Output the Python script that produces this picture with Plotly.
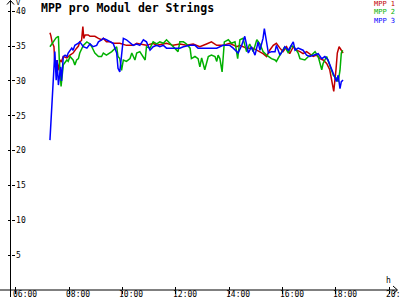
import plotly.graph_objects as go

# ---------------- data ----------------
series_names = ["MPP 1", "MPP 2", "MPP 3"]
series_colors = ["#c00000", "#00b000", "#0000ff"]

mpp1_t = ["07:17","07:19","07:22","07:26","07:28","07:31","07:33","07:35","07:40","07:43","07:47","07:55",
          "08:02","08:09","08:17","08:21","08:24","08:28","08:31","08:33","08:36","08:40","08:43","08:47","08:58",
          "09:06","09:13","09:17","09:24","09:32","09:39","09:54","10:09","10:24","10:32","10:39","10:54",
          "11:09","11:17","11:39","11:54","12:09","12:24","12:39","12:54","13:09","13:20","13:32","13:46",
          "14:01","14:17","14:24","14:39","14:54","15:09","15:16","15:24","15:31","15:39","15:46","15:54",
          "16:01","16:09","16:16","16:24","16:31","16:39","16:46","16:54","17:01","17:09","17:16","17:24",
          "17:31","17:39","17:46","17:54","17:55","18:00","18:03","18:07","18:12","18:16"]
mpp1_v = [36.9,36.5,35.5,34.9,32.5,31.6,33.0,31.5,33.0,32.8,33.5,33.3,
          33.7,34.0,34.7,35.0,35.6,35.8,37.8,36.1,36.6,36.6,36.6,36.4,36.4,
          36.1,35.9,36.1,35.6,35.6,35.4,35.4,35.1,35.1,35.4,35.3,35.1,
          35.4,35.1,35.4,35.1,35.3,35.1,35.3,34.9,35.3,35.6,35.1,35.1,
          35.4,34.9,35.1,34.7,34.7,34.2,33.9,33.5,34.4,35.1,35.4,34.7,
          34.2,34.9,33.9,34.9,34.4,34.2,33.9,34.2,33.9,33.5,33.7,33.2,
          33.0,32.5,31.6,29.2,28.5,31.6,34.0,34.9,34.4,34.0]

mpp2_t = ["07:17","07:24","07:31","07:36","07:38","07:42","07:44","07:47","07:55","07:58","08:02","08:09",
          "08:13","08:17","08:21","08:24","08:32","08:40","08:47","08:51","08:58","09:06","09:13","09:17",
          "09:24","09:36","09:47","09:50","09:54","09:58","10:02","10:09","10:17","10:21","10:28","10:32",
          "10:39","10:51","10:54","11:02","11:09","11:17","11:24","11:32","11:39","11:47","11:54","12:05",
          "12:09","12:17","12:24","12:32","12:35","12:43","12:50","12:54","12:58","13:05","13:13","13:20",
          "13:28","13:32","13:35","13:39","13:44","13:49","13:58","14:05","14:13","14:19","14:24","14:31",
          "14:39","14:46","14:54","15:02","15:09","15:16","15:24","15:35","15:43","15:46","15:54","16:05",
          "16:13","16:20","16:28","16:35","16:39","16:50","16:58","17:05","17:13","17:20","17:28","17:31",
          "17:39","17:46","17:54","18:01","18:05","18:09","18:12","18:15"]
mpp2_v = [34.9,35.5,36.2,36.4,33.0,29.2,31.0,32.3,33.0,32.8,33.5,33.0,
          32.3,33.0,33.2,34.0,35.1,35.6,35.3,34.9,34.0,33.5,33.5,34.0,
          33.7,34.2,34.9,33.5,33.2,31.5,33.0,32.8,33.2,34.0,33.0,34.0,
          34.2,33.0,34.9,34.7,35.6,35.3,35.6,35.4,35.9,35.4,34.9,34.2,
          35.6,35.6,35.3,34.7,33.2,33.5,33.2,32.0,33.3,31.6,33.5,33.7,
          33.5,32.8,33.7,33.2,31.3,35.6,35.9,35.4,35.6,33.2,35.9,36.1,
          34.2,35.3,34.2,35.9,35.3,34.2,33.7,33.2,33.0,32.8,33.7,34.9,
          34.0,35.1,34.7,34.0,33.2,33.0,33.5,33.7,34.2,33.5,31.6,32.5,
          33.5,32.3,30.8,30.4,29.9,31.5,34.0,34.4]

mpp3_t = ["07:17","07:19","07:22","07:24","07:26","07:28","07:31","07:33","07:36","07:38","07:41","07:43",
          "07:47","07:51","07:55","07:58","08:06","08:09","08:13","08:21","08:24","08:32","08:40","08:47",
          "08:54","09:02","09:06","09:13","09:17","09:24","09:32","09:39","09:47","09:50","09:54","09:58",
          "10:02","10:09","10:17","10:24","10:32","10:39","10:47","10:54","11:02","11:09","11:17","11:24",
          "11:32","11:39","11:54","12:09","12:17","12:32","12:43","12:50","13:05","13:32","13:46","14:01",
          "14:09","14:20","14:28","14:35","14:43","14:50","14:58","15:05","15:09","15:16","15:19","15:24",
          "15:28","15:35","15:43","15:46","15:54","16:01","16:05","16:13","16:20","16:24","16:28","16:35",
          "16:46","16:54","17:01","17:09","17:20","17:28","17:35","17:42","17:50","17:58","18:01","18:05",
          "18:09","18:12","18:16"]
mpp3_v = [21.5,24.0,26.5,29.2,31.5,34.2,30.1,33.0,29.4,30.5,32.0,30.0,
          33.5,33.7,33.5,34.0,34.7,34.4,35.1,35.4,35.6,34.9,34.7,35.3,
          34.9,35.1,35.6,35.9,36.1,35.9,35.6,35.4,34.0,31.8,31.3,33.5,
          36.1,35.9,35.4,35.1,35.3,35.1,35.9,35.6,34.4,34.9,35.1,34.9,
          35.1,34.7,34.7,34.7,34.9,35.1,35.1,34.7,34.7,34.7,35.1,35.1,
          34.7,34.0,35.1,36.4,34.0,34.9,33.7,35.6,34.4,36.1,37.5,35.4,
          34.0,34.2,34.2,35.1,33.7,34.4,34.9,34.4,35.1,35.6,34.4,34.7,
          34.4,33.7,33.5,33.7,33.9,33.2,33.5,33.0,31.8,30.4,29.9,30.8,
          28.9,29.9,30.1]

x_tick_hours = [6, 8, 10, 12, 14, 16, 18, 20]
x_tick_labels = ["06:00", "08:00", "10:00", "12:00", "14:00", "16:00", "18:00", "20:00"]
y_tick_values = [5, 10, 15, 20, 25, 30, 35, 40]
title_text = "MPP pro Modul der Strings"
y_unit = "V"
x_unit = "h"

assert len(mpp1_t) == len(mpp1_v)
assert len(mpp2_t) == len(mpp2_v)
assert len(mpp3_t) == len(mpp3_v)


def to_hours(ts):
    return [int(s[:2]) + int(s[3:]) / 60.0 for s in ts]


# ---------------- layout geometry (pixels) ----------------
W, H = 400, 300
X_AXIS_PX = 290.0      # pixel row of the horizontal axis (value 0)
Y_AXIS_PX = 10.5       # pixel column of the vertical axis
PX_PER_H = 26.69
X6_PX = 15.7           # pixel column of 06:00
PX_PER_V = 6.97

X0 = 6 + (0 - X6_PX) / PX_PER_H
X1 = 6 + (W - X6_PX) / PX_PER_H
Y0 = (X_AXIS_PX - H) / PX_PER_V
Y1 = X_AXIS_PX / PX_PER_V


def fx(p):
    return p / W


def fy(p):
    return 1 - p / H


mono = "DejaVu Sans Mono"

fig = go.Figure()
for name, col, t, v in zip(series_names, series_colors,
                           [mpp1_t, mpp2_t, mpp3_t], [mpp1_v, mpp2_v, mpp3_v]):
    fig.add_trace(go.Scatter(x=to_hours(t), y=v, mode="lines", name=name,
                             line=dict(color=col, width=1.5), showlegend=False,
                             hoverinfo="skip"))
# empty trace to carry secondary (tick-only) axes
fig.add_trace(go.Scatter(x=[], y=[], xaxis="x2", yaxis="y2", showlegend=False))

common = dict(showgrid=False, zeroline=False, showline=False, tickcolor="black",
              tickfont=dict(family=mono, size=8, color="black"))

fig.update_layout(
    width=W, height=H, margin=dict(l=0, r=0, t=0, b=0, autoexpand=False),
    paper_bgcolor="white", plot_bgcolor="white",
    xaxis=dict(range=[X0, X1], domain=[0, 1], anchor="free", position=1 - X_AXIS_PX / H,
               tickmode="array", tickvals=x_tick_hours, ticks="outside", ticklen=3,
               side="bottom", showticklabels=False, **common),
    xaxis2=dict(range=[X0, X1], domain=[0, 1], anchor="free", position=1 - X_AXIS_PX / H,
                overlaying="x", matches="x", side="top",
                tickmode="array", tickvals=x_tick_hours, ticks="outside", ticklen=3,
                showticklabels=False, **common),
    yaxis=dict(range=[Y0, Y1], domain=[0, 1], anchor="free", position=Y_AXIS_PX / W,
               tickmode="array", tickvals=y_tick_values, ticks="outside", ticklen=3,
               side="left", showticklabels=False, **common),
    yaxis2=dict(range=[Y0, Y1], domain=[0, 1], anchor="free", position=Y_AXIS_PX / W,
                overlaying="y", matches="y", side="right",
                tickmode="array", tickvals=y_tick_values, ticks="outside", ticklen=3,
                ticklabelstandoff=0, **common),
)

# axis lines and arrows (decoration)
line = dict(color="black", width=1)
shapes = [
    dict(type="line", xref="paper", yref="paper", x0=fx(0), x1=fx(397),
         y0=fy(X_AXIS_PX), y1=fy(X_AXIS_PX), line=line),
    dict(type="line", xref="paper", yref="paper", x0=fx(Y_AXIS_PX), x1=fx(Y_AXIS_PX),
         y0=fy(297), y1=fy(0.5), line=line),
    dict(type="path", xref="paper", yref="paper",
         path=f"M {fx(393)} {fy(286)} L {fx(397.5)} {fy(X_AXIS_PX)} L {fx(393)} {fy(294)}",
         line=line),
    dict(type="path", xref="paper", yref="paper",
         path=f"M {fx(7)} {fy(4.5)} L {fx(Y_AXIS_PX)} {fy(0.5)} L {fx(14)} {fy(4.5)}",
         line=line),
]
fig.update_layout(shapes=shapes)

ann = [
    dict(text=f"<b>{title_text}</b>", x=fx(40), y=fy(7.5), xanchor="left", yanchor="middle",
         font=dict(family=mono, size=11.5, color="black")),
    dict(text=y_unit, x=fx(14.5), y=fy(3), xanchor="left", yanchor="middle",
         font=dict(family=mono, size=7, color="black")),
    dict(text=x_unit, x=fx(384.5), y=fy(280.5), xanchor="left", yanchor="middle",
         font=dict(family=mono, size=8, color="black")),
]
for i, (name, col) in enumerate(zip(series_names, series_colors)):
    ann.append(dict(text=name, x=fx(396), y=fy(4.2 + 8.2 * i), xanchor="right", yanchor="middle",
                    font=dict(family=mono, size=7, color=col)))
for a in ann:
    a.update(xref="paper", yref="paper", showarrow=False, borderpad=0)
# x tick labels, left-aligned just before each tick, below the axis
for hv, lab in zip(x_tick_hours, x_tick_labels):
    ann.append(dict(text=lab, x=hv, xref="x", y=fy(294.8), yref="paper",
                    xanchor="left", yanchor="middle", xshift=-4, showarrow=False, borderpad=0,
                    font=dict(family=mono, size=8, color="black")))
fig.update_layout(annotations=ann)

fig.write_html("out.html")
